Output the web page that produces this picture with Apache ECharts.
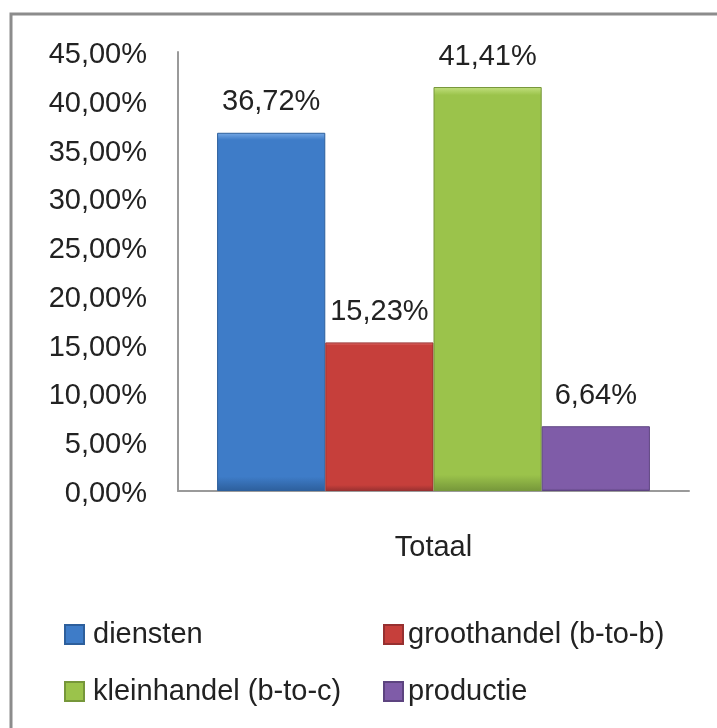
<!DOCTYPE html>
<html>
<head>
<meta charset="utf-8">
<style>
  html, body { margin: 0; padding: 0; background: #fff; }
  #chart { width: 717px; height: 728px; }
</style>
<script src="https://cdn.jsdelivr.net/npm/echarts@6/dist/echarts.min.js"></script>
</head>
<body>
<div id="chart"></div>
<script>
// Share of companies per sector (percent)
const categories = ['Totaal'];
const seriesNames = ['diensten', 'groothandel (b-to-b)', 'kleinhandel (b-to-c)', 'productie'];
const diensten = [36.72];
const groothandel = [15.23];
const kleinhandel = [41.41];
const productie = [6.64];

const seriesValues = [diensten, groothandel, kleinhandel, productie];

// light / base / dark tones per series for the bevelled look
const palette = [
  { light: '#78aae6', base: '#3e7cc8', dark: '#2d5f9c' },
  { light: '#e57a76', base: '#c63f3b', dark: '#973030' },
  { light: '#c2e07f', base: '#9bc34b', dark: '#76973a' },
  { light: '#ad90d2', base: '#7f5ca8', dark: '#5d4480' }
];

const FONT = '"Liberation Sans", Arial, sans-serif';
const fmt = v => v.toFixed(2).replace('.', ',') + '%';

function bevel(c) {
  return {
    type: 'linear', x: 0, y: 0, x2: 0, y2: 1,
    colorStops: [
      { offset: 0, color: c.light },
      { offset: 0.02, color: c.base },
      { offset: 0.96, color: c.base },
      { offset: 1, color: c.dark }
    ]
  };
}

const chart = echarts.init(document.getElementById('chart'), null, { renderer: 'canvas' });

chart.setOption({
  backgroundColor: '#ffffff',
  animation: false,
  graphic: [{
    type: 'rect',
    shape: { x: 11, y: 14, width: 730, height: 740 },
    style: { fill: 'none', stroke: '#8c8c8c', lineWidth: 3 },
    silent: true
  }],
  grid: { left: 178, right: 28, top: 52, bottom: 237, containLabel: false },
  xAxis: {
    type: 'category',
    data: categories,
    axisLine: { show: true, lineStyle: { color: '#9a9a9a', width: 2 } },
    axisTick: { show: false },
    axisLabel: { margin: 42, fontSize: 29, fontFamily: FONT, color: '#222' }
  },
  yAxis: {
    type: 'value',
    min: 0, max: 45, interval: 5,
    axisLine: { show: true, lineStyle: { color: '#9a9a9a', width: 2 } },
    axisTick: { show: false },
    splitLine: { show: false },
    axisLabel: {
      margin: 31, color: '#222',
      formatter: v => '{t|' + fmt(v) + '}',
      rich: { t: { fontSize: 29, fontFamily: FONT, color: '#222', padding: [6, 0, 0, 0] } }
    }
  },
  legend: [
    {
      orient: 'vertical', left: 59, top: 615, itemGap: 28,
      itemWidth: 19, itemHeight: 19, icon: 'rect',
      data: [seriesNames[0], seriesNames[2]],
      textStyle: { fontSize: 29, fontFamily: FONT, color: '#222', padding: [0, 0, 0, 4] }
    },
    {
      orient: 'vertical', left: 378, top: 615, itemGap: 28,
      itemWidth: 19, itemHeight: 19, icon: 'rect',
      data: [seriesNames[1], seriesNames[3]],
      textStyle: { fontSize: 29, fontFamily: FONT, color: '#222', padding: [0, 0, 0, 0] }
    }
  ],
  series: seriesValues.map((vals, i) => ({
    name: seriesNames[i],
    type: 'bar',
    data: vals,
    barGap: '0%',
    barCategoryGap: '15.3%',
    itemStyle: { color: bevel(palette[i]), borderColor: palette[i].dark, borderWidth: 1 },
    label: {
      show: true, position: 'top', distance: 16,
      fontSize: 29, fontFamily: FONT, color: '#222',
      formatter: p => fmt(p.value)
    }
  }))
});
</script>
</body>
</html>
